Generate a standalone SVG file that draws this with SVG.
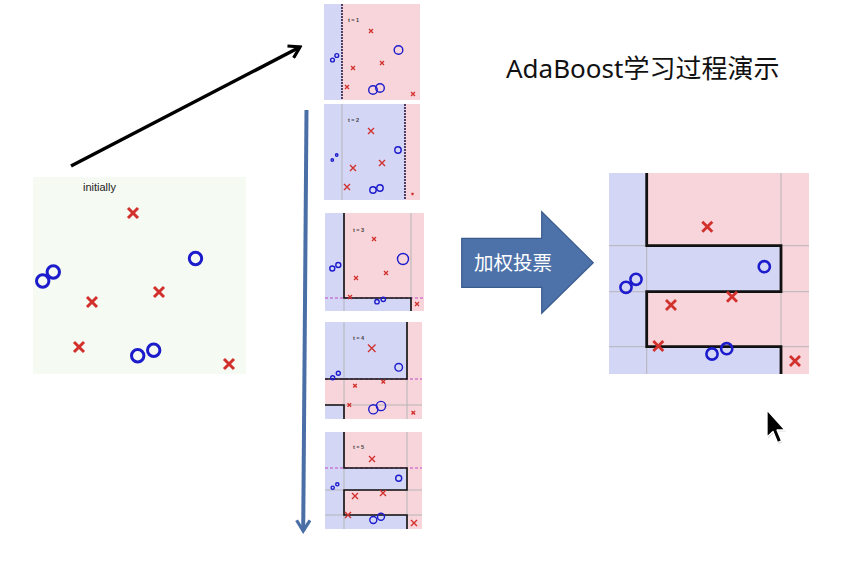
<svg xmlns="http://www.w3.org/2000/svg" width="849" height="562" viewBox="0 0 849 562">
<defs>
<style>
.bl{fill:#d4d6f6}
.pk{fill:#f8d5da}
.gr{stroke:#b4b4b8;stroke-width:1;fill:none}
.bd{stroke:#111;fill:none;stroke-linejoin:miter}
.md{stroke:#c048c8;stroke-width:1;stroke-dasharray:3 2;fill:none}
.xm{stroke:#d2302c;fill:none;stroke-linecap:butt}
.ci{stroke:#1c1ccc;fill:none}
.tl{font-family:"Liberation Sans",Arial,sans-serif;font-size:5.5px;font-weight:bold;fill:#444}
</style>
<marker id="blk" viewBox="0 0 12 12" refX="10" refY="6" markerWidth="16" markerHeight="16" markerUnits="userSpaceOnUse" orient="auto">
<path d="M2,1 L10,6 L2,11" fill="none" stroke="#000" stroke-width="2.4" stroke-linejoin="miter"/>
</marker>
<marker id="blu" viewBox="0 0 12 12" refX="10" refY="6" markerWidth="16" markerHeight="16" markerUnits="userSpaceOnUse" orient="auto">
<path d="M2,1 L10,6 L2,11" fill="none" stroke="#4a6ea6" stroke-width="2.4" stroke-linejoin="miter"/>
</marker>
</defs>
<rect width="849" height="562" fill="#fff"/>

<g id="connectors">
<line x1="71" y1="166" x2="300" y2="47" stroke="#000" stroke-width="3.5" marker-end="url(#blk)"/>
<line x1="306.5" y1="110" x2="303.2" y2="531" stroke="#4a6ea6" stroke-width="4" marker-end="url(#blu)"/>
</g>

<g id="initial">
<rect x="33" y="177" width="213" height="197" fill="#f5faf2"/>
<text x="83" y="191" font-family="Liberation Sans,Arial,sans-serif" font-size="11" fill="#222">initially</text>
<g class="xm" stroke-width="3">
<path d="M128 208L138 218M138 208L128 218"/>
<path d="M154 287L164 297M164 287L154 297"/>
<path d="M87 297L97 307M97 297L87 307"/>
<path d="M74 342L84 352M84 342L74 352"/>
<path d="M224 359L234 369M234 359L224 369"/>
</g>
<g class="ci" stroke-width="3">
<circle cx="195.5" cy="258.5" r="6.2"/>
<circle cx="42.7" cy="281" r="6.2"/>
<circle cx="53.3" cy="272" r="6.2"/>
<circle cx="137.7" cy="355.7" r="6.2"/>
<circle cx="153.7" cy="350.3" r="6.2"/>
</g>
</g>

<g id="round-1">
<rect x="324" y="4" width="96" height="96" class="pk"/>
<rect x="324" y="4" width="18" height="96" class="bl"/>
<line x1="342" y1="4" x2="342" y2="100" stroke="#2a1a40" stroke-width="1.6" stroke-dasharray="2 1"/>
<text x="348" y="22" class="tl">t = 1</text>
<g class="xm" stroke-width="1.3">
<path d="M369 29L373 33M373 29L369 33"/>
<path d="M380 61L384 65M384 61L380 65"/>
<path d="M351 66L355 70M355 66L351 70"/>
<path d="M345 85L349 89M349 85L345 89"/>
<path d="M411 92L415 96M415 92L411 96"/>
</g>
<g class="ci" stroke-width="1.4">
<circle cx="398.5" cy="50" r="4.3"/>
<circle cx="373" cy="90" r="4.3"/>
<circle cx="380" cy="88" r="4.3"/>
<circle cx="332.5" cy="60" r="1.9"/>
<circle cx="336.8" cy="55.5" r="1.9"/>
</g>
</g>

<g id="round-2">
<rect x="324" y="104" width="96" height="96" class="bl"/>
<rect x="405" y="104" width="15" height="96" class="pk"/>
<line x1="342" y1="104" x2="342" y2="200" class="gr"/>
<line x1="405" y1="104" x2="405" y2="200" stroke="#2a1a40" stroke-width="1.6" stroke-dasharray="2 1"/>
<text x="348" y="122" class="tl">t = 2</text>
<g class="xm" stroke-width="1.4">
<path d="M368 128L374 134M374 128L368 134"/>
<path d="M379 160L385 166M385 160L379 166"/>
<path d="M350 165L356 171M356 165L350 171"/>
<path d="M344 184L350 190M350 184L344 190"/>
<path d="M411.5 193L413.5 195M413.5 193L411.5 195"/>
</g>
<g class="ci" stroke-width="1.4">
<circle cx="398" cy="150" r="3.2"/>
<circle cx="373" cy="190" r="3.2"/>
<circle cx="380" cy="188" r="3.2"/>
<circle cx="332.3" cy="160" r="1.2"/>
<circle cx="336.7" cy="155" r="1.2"/>
</g>
</g>

<g id="round-3">
<rect x="325" y="213" width="99" height="98" class="pk"/>
<rect x="325" y="213" width="19" height="98" class="bl"/>
<rect x="344" y="298" width="67" height="13" class="bl"/>
<line x1="344" y1="213" x2="344" y2="311" class="gr"/>
<line x1="411" y1="213" x2="411" y2="311" class="gr"/>
<line x1="325" y1="298" x2="424" y2="298" class="md"/>
<path d="M344 213V298H411V311" class="bd" stroke-width="1.6"/>
<text x="353" y="232" class="tl">t = 3</text>
<g class="xm" stroke-width="1.3">
<path d="M372 237L376 241M376 237L372 241"/>
<path d="M354 276L358 280M358 276L354 280"/>
<path d="M384 271L388 275M388 271L384 275"/>
<path d="M348 295L352 299M352 295L348 299"/>
<path d="M415 302L419 306M419 302L415 306"/>
</g>
<g class="ci" stroke-width="1.4">
<circle cx="403" cy="259" r="5.5"/>
<circle cx="332.3" cy="268.5" r="2.5"/>
<circle cx="338.3" cy="265" r="2.5"/>
<circle cx="377" cy="301.7" r="2.2"/>
<circle cx="383.3" cy="299.3" r="2.2"/>
</g>
</g>

<g id="round-4">
<rect x="325" y="322" width="97" height="97" class="pk"/>
<rect x="325" y="322" width="82" height="57" class="bl"/>
<rect x="325" y="405" width="19" height="14" class="bl"/>
<line x1="344" y1="322" x2="344" y2="419" class="gr"/>
<line x1="407" y1="322" x2="407" y2="419" class="gr"/>
<line x1="325" y1="405" x2="422" y2="405" class="gr"/>
<line x1="325" y1="379" x2="422" y2="379" class="md"/>
<path d="M325 379H407V322" class="bd" stroke-width="1.6"/>
<path d="M325 405H344V419" class="bd" stroke-width="1.6"/>
<text x="353" y="340" class="tl">t = 4</text>
<g class="xm" stroke-width="1.4">
<path d="M368 344.5L375.5 352M375.5 344.5L368 352"/>
<path d="M353.2 384L356.8 387.6M356.8 384L353.2 387.6"/>
<path d="M381.5 380L385.1 383.6M385.1 380L381.5 383.6"/>
<path d="M347.5 403.2L351.1 406.8M351.1 403.2L347.5 406.8"/>
<path d="M411.5 411L415.1 414.6M415.1 411L411.5 414.6"/>
</g>
<g class="ci" stroke-width="1.4">
<circle cx="398.7" cy="367.3" r="3.8"/>
<circle cx="332.7" cy="377.7" r="2"/>
<circle cx="338.3" cy="373.3" r="2"/>
<circle cx="373.3" cy="409.3" r="4.6"/>
<circle cx="381" cy="406" r="4.6"/>
</g>
</g>

<g id="round-5">
<rect x="325" y="432" width="97" height="97" class="pk"/>
<rect x="325" y="432" width="19" height="97" class="bl"/>
<rect x="344" y="468" width="63" height="22" class="bl"/>
<rect x="344" y="515" width="63" height="14" class="bl"/>
<line x1="344" y1="432" x2="344" y2="529" class="gr"/>
<line x1="407" y1="432" x2="407" y2="529" class="gr"/>
<line x1="325" y1="490" x2="422" y2="490" class="gr"/>
<line x1="325" y1="515" x2="422" y2="515" class="gr"/>
<line x1="325" y1="468" x2="422" y2="468" class="md"/>
<path d="M344 432V468H407V490H344V515H407V529" class="bd" stroke-width="1.6"/>
<text x="353" y="449" class="tl">t = 5</text>
<g class="xm" stroke-width="1.4">
<path d="M369 456L375 462M375 456L369 462"/>
<path d="M352 493L358 499M358 493L352 499"/>
<path d="M380 490L386 496M386 490L380 496"/>
<path d="M345 512L351 518M351 512L345 518"/>
<path d="M411 520L417 526M417 520L411 526"/>
</g>
<g class="ci" stroke-width="1.4">
<circle cx="398.7" cy="478.3" r="3"/>
<circle cx="332.7" cy="487.7" r="1.6"/>
<circle cx="337.3" cy="484.3" r="1.6"/>
<circle cx="373.3" cy="520" r="3.5"/>
<circle cx="381" cy="516.7" r="3.5"/>
</g>
</g>

<g id="vote-arrow">
<path d="M461.7 238.3H541.7V211.7L593.3 262.7L541.7 313.3V287.3H461.7Z" fill="#4d72a9" stroke="#3b5c8f" stroke-width="1.2"/>
<text x="513" y="270" text-anchor="middle" font-family="Noto Sans CJK SC,Noto Sans,sans-serif" font-size="19.5" fill="#fff">加权投票</text>
</g>

<g id="title">
<text x="506" y="78" font-family="Noto Sans,Noto Sans CJK SC,sans-serif" font-size="26" fill="#111">AdaBoost学习过程演示</text>
</g>

<g id="final">
<rect x="609" y="173" width="200" height="201" class="pk"/>
<rect x="609" y="173" width="37.7" height="201" class="bl"/>
<rect x="646.7" y="245.7" width="134.3" height="46" class="bl"/>
<rect x="646.7" y="346.7" width="134.3" height="27.3" class="bl"/>
<g class="gr" stroke-width="1.4">
<line x1="646.7" y1="173" x2="646.7" y2="374"/>
<line x1="781" y1="173" x2="781" y2="374"/>
<line x1="609" y1="245.7" x2="809" y2="245.7"/>
<line x1="609" y1="291.7" x2="809" y2="291.7"/>
<line x1="609" y1="346.7" x2="809" y2="346.7"/>
</g>
<path d="M646.7 173V245.7H781V291.7H646.7V346.7H781V374" class="bd" stroke-width="2.8"/>
<g class="xm" stroke-width="2.8">
<path d="M702.3 221.7L712.3 231.7M712.3 221.7L702.3 231.7"/>
<path d="M666 300L676 310M676 300L666 310"/>
<path d="M727 291.7L737 301.7M737 291.7L727 301.7"/>
<path d="M653.3 341L663.3 351M663.3 341L653.3 351"/>
<path d="M790 356L800 366M800 356L790 366"/>
</g>
<g class="ci" stroke-width="2.6">
<circle cx="764.3" cy="266.7" r="5.6"/>
<circle cx="626" cy="287.3" r="5.6"/>
<circle cx="636" cy="279.3" r="5.6"/>
<circle cx="712" cy="354" r="5.6"/>
<circle cx="726.7" cy="348.7" r="5.6"/>
</g>
</g>

<g id="cursor">
<path d="M768 411.5V438.5L774 433L778.5 444L782.5 442.3L778 431.5H786Z" fill="#000" opacity="0.15"/>
<path d="M767 410V437L773 431.5L777.5 442.5L781.5 440.8L777 430H785Z" fill="#000" stroke="#fff" stroke-width="1.3" stroke-linejoin="round"/>
</g>
</svg>
